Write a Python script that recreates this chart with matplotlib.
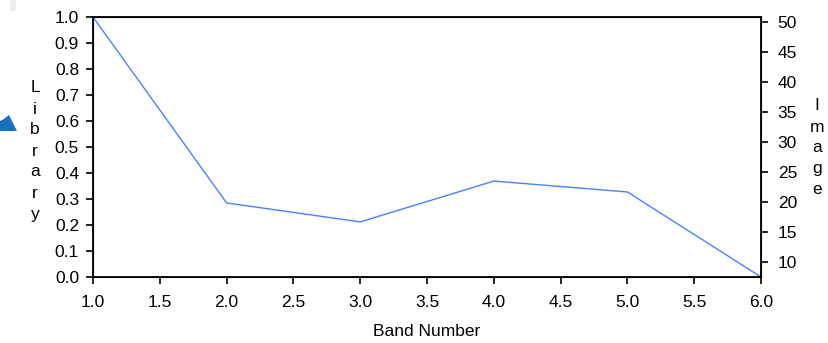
import numpy as np
import matplotlib.pyplot as plt
from matplotlib.patches import Polygon

# spectrum values per band (library scale)
bands = [1, 2, 3, 4, 5, 6]
library = [1.0, 0.285, 0.212, 0.369, 0.327, 0.0]

x_ticks = [1.0, 1.5, 2.0, 2.5, 3.0, 3.5, 4.0, 4.5, 5.0, 5.5, 6.0]
left_ticks = [0.0, 0.1, 0.2, 0.3, 0.4, 0.5, 0.6, 0.7, 0.8, 0.9, 1.0]
right_ticks = [10, 15, 20, 25, 30, 35, 40, 45, 50]

plt.rcParams['font.family'] = ['Liberation Sans', 'DejaVu Sans']
plt.rcParams['font.size'] = 12.5

fig = plt.figure(figsize=(8.29, 3.43), dpi=100)
ax = fig.add_axes([0.1122, 0.1924, 0.8058, 0.758])
ax.plot(bands, library, color='#4d7fff', linewidth=1.0)
ax.set_xlim(1, 6)
ax.set_ylim(0, 1)
ax.set_xticks(x_ticks)
ax.set_xticklabels(['%.1f' % t for t in x_ticks])
ax.set_yticks(left_ticks)
ax.set_yticklabels(['%.1f' % t for t in left_ticks])
ax.tick_params(direction='out', length=5, width=1.2, colors='black')
ax.tick_params(axis='x', pad=8)
ax.tick_params(axis='y', pad=5)
for s in ax.spines.values():
    s.set_linewidth(1.3)
ax.set_xlabel('Band Number', labelpad=10)

ax2 = ax.twinx()
ax2.set_ylim(7.5, 50.83)
ax2.set_yticks(right_ticks)
ax2.set_yticklabels([str(t) for t in right_ticks])
ax2.tick_params(direction='out', length=5, width=1.2, pad=7)

# stacked letter axis titles
fig.text(35 / 829, 1 - 151 / 343, '\n'.join('Library'), ha='center', va='center',
         linespacing=1.5)
fig.text(817 / 829, 1 - 148 / 343, '\n'.join('Image'), ha='center', va='center',
         linespacing=1.5)

# blue pointer on the left edge
arrow = Polygon([[0, 1 - 131 / 343], [17 / 829, 1 - 131 / 343], [9 / 829, 1 - 115 / 343],
                 [4 / 829, 1 - 119 / 343], [0, 1 - 121 / 343]], closed=True,
                transform=fig.transFigure, facecolor='#1a6fc0', edgecolor='none')
fig.patches.append(arrow)

# faint grey strip top-left
strip = Polygon([[10 / 829, 1], [16 / 829, 1], [16 / 829, 1 - 11 / 343], [10 / 829, 1 - 11 / 343]],
                closed=True, transform=fig.transFigure, facecolor='#eeeeee', edgecolor='none')
fig.patches.append(strip)

fig.savefig('out.png', dpi=100)
